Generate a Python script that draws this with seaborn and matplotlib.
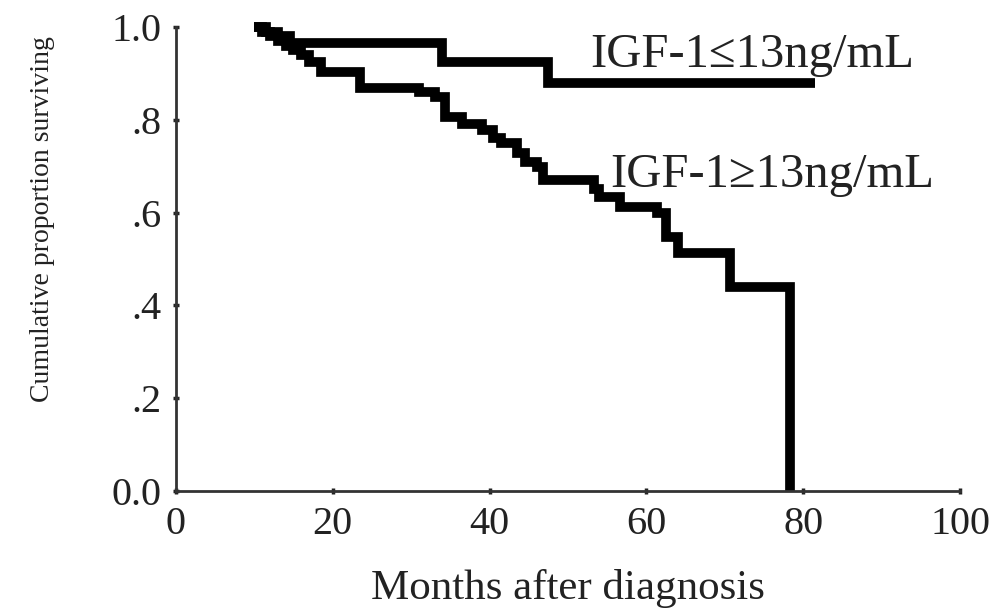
import matplotlib
matplotlib.use("Agg")
import matplotlib.pyplot as plt
import seaborn as sns
import pandas as pd

# ---- data ----
low_months = [10, 11, 12, 13, 14, 15, 16, 17, 18.5, 23.5, 31, 33, 34.3, 36.5, 39, 40.5,
              41.5, 43.5, 44.5, 46, 46.8, 53.3, 54, 56.6, 61.3, 62.5, 64, 70.7, 78.3]
low_surv = [1.0, 0.99, 0.98, 0.97, 0.96, 0.95, 0.94, 0.925, 0.903, 0.869, 0.86, 0.85, 0.806,
            0.79, 0.778, 0.76, 0.75, 0.728, 0.709, 0.698, 0.67, 0.65, 0.634, 0.612, 0.599,
            0.547, 0.513, 0.44, 0.0]
high_months = [10, 11.5, 13, 14.5, 34, 47.5, 81.5]
high_surv = [1.0, 0.99, 0.98, 0.965, 0.925, 0.88, 0.88]

label_low = "IGF-1≤13ng/mL"
label_high = "IGF-1≥13ng/mL"
x_ticks = [0, 20, 40, 60, 80, 100]
y_ticks = [0.0, 0.2, 0.4, 0.6, 0.8, 1.0]
y_ticklabels = ["0.0", ".2", ".4", ".6", ".8", "1.0"]

sns.set_style("ticks")
plt.rcParams["font.family"] = ["Liberation Serif", "DejaVu Serif"]

fig = plt.figure(figsize=(9.99, 6.13), dpi=100)
ax = fig.add_axes([0.176, 0.199, 0.785, 0.757])

df_a = pd.DataFrame({"month": high_months, "surv": high_surv})
df_b = pd.DataFrame({"month": low_months, "surv": low_surv})

sns.lineplot(data=df_a, x="month", y="surv", ax=ax, color="black", lw=7,
             drawstyle="steps-post", estimator=None, sort=False,
             solid_joinstyle="miter", solid_capstyle="butt", clip_on=False)
sns.lineplot(data=df_b, x="month", y="surv", ax=ax, color="black", lw=7,
             drawstyle="steps-post", estimator=None, sort=False,
             solid_joinstyle="miter", solid_capstyle="butt", clip_on=False)

ax.text(52.8, 0.914, label_low, fontsize=35, va="baseline", ha="left", color="#222222")
ax.text(55.4, 0.655, label_high, fontsize=35, va="baseline", ha="left", color="#222222")

ax.set_xlim(0, 100)
ax.set_ylim(0, 1.0)
ax.set_xticks(x_ticks)
ax.set_xticklabels([str(v) for v in x_ticks])
ax.set_yticks(y_ticks)
ax.set_yticklabels(y_ticklabels)
ax.tick_params(axis="both", direction="inout", length=5, width=2.5, labelsize=29,
               colors="#222222", pad=8)
for s in ["top", "right"]:
    ax.spines[s].set_visible(False)
for s in ["left", "bottom"]:
    ax.spines[s].set_linewidth(2)
    ax.spines[s].set_color("#333333")

ax.set_xlabel("Months after diagnosis", fontsize=31, color="#222222", labelpad=19)
ax.set_ylabel("Cumulative proportion surviving", fontsize=20, color="#222222")
ax.yaxis.set_label_coords(-0.154, 0.586)

fig.savefig("out.png", dpi=100, facecolor="white")
